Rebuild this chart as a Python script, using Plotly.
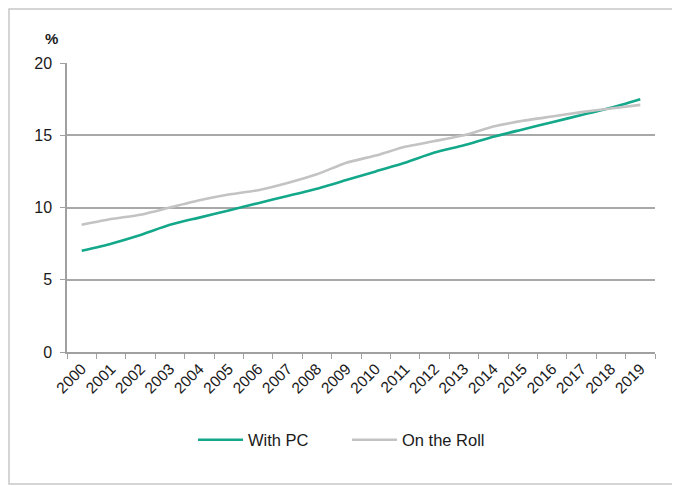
import plotly.graph_objects as go

years = [str(y) for y in range(2000, 2020)]
with_pc = [7.0, 7.5, 8.1, 8.8, 9.3, 9.8, 10.3, 10.8, 11.3, 11.9, 12.5, 13.1, 13.8, 14.3, 14.9, 15.4, 15.9, 16.4, 16.9, 17.5]
on_roll = [8.8, 9.2, 9.5, 10.0, 10.5, 10.9, 11.2, 11.7, 12.3, 13.1, 13.6, 14.2, 14.6, 15.0, 15.6, 16.0, 16.3, 16.6, 16.85, 17.1]
y_ticks = [0, 5, 10, 15, 20]

# page is rendered with an 8px body offset
OFF = 8
W, H = 672, 478
L, R, T, B = 67 - OFF, 655 - OFF, 63 - OFF, 352 - OFF

def px(x):
    return (x - OFF - L) / (R - L)

def py(y):
    return (B - (y - OFF)) / (B - T)

fig = go.Figure()
fig.add_trace(go.Scatter(x=years, y=with_pc, mode="lines", name="With PC",
                         line=dict(color="#14A88B", width=2.6, shape="spline", smoothing=0.5)))
fig.add_trace(go.Scatter(x=years, y=on_roll, mode="lines", name="On the Roll",
                         line=dict(color="#C3C3C3", width=2.6, shape="spline", smoothing=0.5)))

fig.update_layout(
    width=W, height=H,
    margin=dict(l=L, r=W - R, t=T, b=H - B),
    paper_bgcolor="white", plot_bgcolor="white",
    font=dict(family="Liberation Sans, Arial, sans-serif", size=15, color="#1a1a1a"),
    showlegend=True,
    legend=dict(orientation="h", x=px(193), xanchor="left", y=py(440), yanchor="middle",
                font=dict(size=16.5, color="#1a1a1a"), itemwidth=45, traceorder="normal",
                entrywidth=94, entrywidthmode="pixels"),
    xaxis=dict(type="category", range=[-0.5, 19.5], tickangle=-45, tickson="boundaries",
               ticks="outside", ticklen=5, tickcolor="#a0a0a0", showline=True, linecolor="#a0a0a0",
               linewidth=1.5, showgrid=False, zeroline=False, tickfont=dict(size=15.5)),
    yaxis=dict(range=[0, 20], tickvals=y_ticks, ticks="outside", ticklen=5, tickcolor="#a0a0a0",
               showline=True, linecolor="#a0a0a0", linewidth=1.5, showgrid=True,
               gridcolor="#a8a8a8", gridwidth=1.5, zeroline=False, tickfont=dict(size=16),
               ticklabelstandoff=5),
    annotations=[dict(text="<b>%</b>", x=px(43), y=py(28), xref="paper", yref="paper",
                      showarrow=False, font=dict(size=15, color="#1a1a1a"))],
    shapes=[dict(type="rect", xref="paper", yref="paper", x0=px(OFF + 1), x1=px(674), y0=py(484), y1=py(OFF + 1),
                 line=dict(color="#c8c8c8", width=1.5), fillcolor="rgba(0,0,0,0)", layer="below")],
)

fig.write_html("out.html")
